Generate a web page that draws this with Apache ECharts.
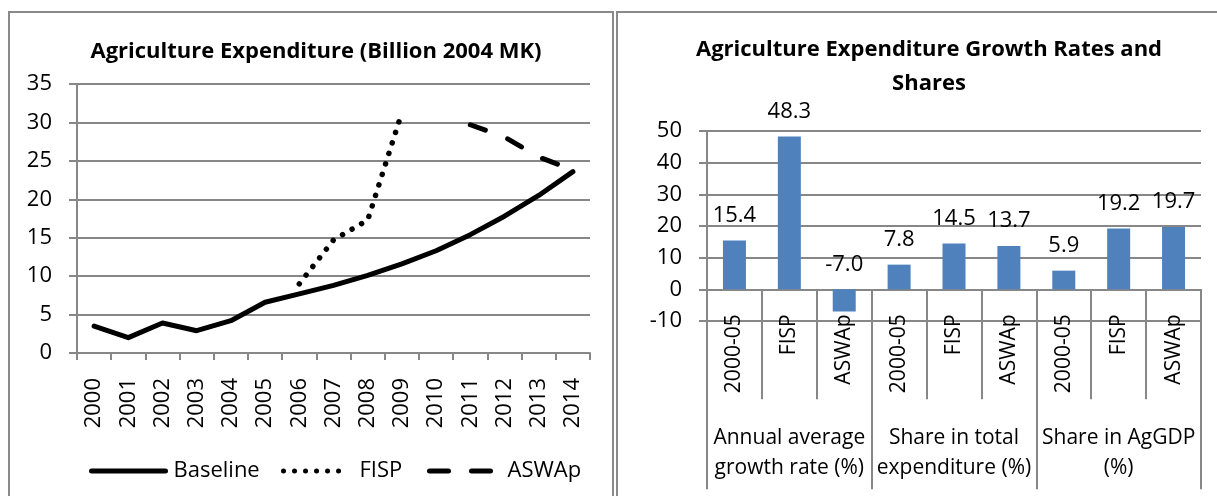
<!DOCTYPE html>
<html>
<head>
<meta charset="utf-8">
<script src="https://cdn.jsdelivr.net/npm/echarts@6/dist/echarts.min.js"></script>
<style>
  html, body { margin: 0; padding: 0; background: #fff; }
  #chart { position: absolute; left: 0; top: 0; width: 1217px; height: 496px; }
  .frame { position: absolute; border: 2px solid #898989; pointer-events: none; }
</style>
</head>
<body>
<div id="chart"></div>
<div class="frame" style="left:8px; top:11px; width:602px; height:520px;"></div>
<div class="frame" style="left:616px; top:11px; width:640px; height:520px;"></div>
<script>
// left panel: expenditure in billion 2004 MK
const years = ['2000', '2001', '2002', '2003', '2004', '2005', '2006', '2007',
               '2008', '2009', '2010', '2011', '2012', '2013', '2014'];
const baseline = [3.5, 2.0, 3.9, 2.9, 4.2, 6.6, 7.7, 8.8, 10.1, 11.6, 13.3, 15.4, 17.8, 20.5, 23.6];
const fisp     = [null, null, null, null, null, null, 9.0, 14.7, 17.3, 31.3, null, null, null, null, null];
const aswap    = [null, null, null, null, null, null, null, null, null, null, null, 29.7, 28.1, 25.5, 23.8];

// right panel: growth rates and shares
const barCategories = ['2000-05', 'FISP', 'ASWAp', '2000-05', 'FISP', 'ASWAp', '2000-05', 'FISP', 'ASWAp'];
const barValues = [15.4, 48.3, -7.0, 7.8, 14.5, 13.7, 5.9, 19.2, 19.7];
const groupLabels = ['Annual average\ngrowth rate (%)', 'Share in total\nexpenditure (%)', 'Share in AgGDP\n(%)'];

const FONT = 'Open Sans';
const GRID_COLOR = '#878787';

// bar grid: value range -10..50 over 190px, so the zero line sits 190/6 px above the bottom
const BAR_GRID_H = 190;
const ZERO_SHIFT = -BAR_GRID_H / 6;

let chart = echarts.init(document.getElementById('chart'));

function legendFor(name, left, width, extraText, extraLine) {
    return {
        data: [name], left: left, top: 460, padding: 0,
        itemWidth: width, itemHeight: 14,
        textStyle: { color: '#000', fontFamily: FONT, fontSize: 22, padding: [0, 0, 0, extraText] },
        itemStyle: { opacity: 0 },
        lineStyle: Object.assign({ width: 5, cap: 'round' }, extraLine)
    };
}

let option = {
    animation: false,
    textStyle: { fontFamily: FONT },
    title: [
        {
            text: 'Agriculture Expenditure (Billion 2004 MK)',
            left: 311, top: 32, textAlign: 'center',
            textStyle: { fontFamily: FONT, fontSize: 22, fontWeight: 'bold', color: '#000', lineHeight: 30 }
        },
        {
            text: 'Agriculture Expenditure Growth Rates and\nShares',
            left: 924, top: 28, textAlign: 'center',
            textStyle: { fontFamily: FONT, fontSize: 22, fontWeight: 'bold', color: '#000', lineHeight: 34 }
        }
    ],
    legend: [
        legendFor('Baseline', 89, 74, 3, {}),
        legendFor('FISP', 281, 60, 11, {}),
        legendFor('ASWAp', 427, 65, 8, { type: [19, 23] })
    ],
    grid: [
        { left: 77, top: 84, width: 513, height: 269, outerBoundsMode: 'none', containLabel: false },
        { left: 707, top: 131, width: 494, height: BAR_GRID_H, outerBoundsMode: 'none', containLabel: false }
    ],
    xAxis: [
        {
            type: 'category', gridIndex: 0, data: years, boundaryGap: true,
            axisLine: { lineStyle: { color: GRID_COLOR, width: 2 } },
            axisTick: { show: true, interval: 0, length: 7, lineStyle: { color: GRID_COLOR, width: 2 } },
            axisLabel: { interval: 0, rotate: 90, margin: 25, color: '#000', fontSize: 22, fontFamily: FONT }
        },
        {
            type: 'category', gridIndex: 1, data: barCategories, boundaryGap: true, position: 'bottom',
            offset: ZERO_SHIFT,
            axisLine: { show: true, onZero: false, lineStyle: { color: GRID_COLOR, width: 2 } },
            axisTick: { show: true, interval: 0, length: 110, lineStyle: { color: GRID_COLOR, width: 2 } },
            axisLabel: { interval: 0, rotate: 90, margin: 25, color: '#000', fontSize: 21, fontFamily: FONT }
        },
        {
            type: 'category', gridIndex: 1, data: groupLabels, boundaryGap: true, position: 'bottom',
            offset: ZERO_SHIFT,
            axisLine: { show: true, onZero: false, lineStyle: { color: GRID_COLOR, width: 2 } },
            axisTick: { show: true, interval: 0, length: 200, lineStyle: { color: GRID_COLOR, width: 2 } },
            axisLabel: { interval: 0, margin: 134, color: '#000', fontSize: 21, lineHeight: 30, fontFamily: FONT }
        }
    ],
    yAxis: [
        {
            type: 'value', gridIndex: 0, min: 0, max: 35, interval: 5,
            axisLine: { show: true, lineStyle: { color: GRID_COLOR, width: 2 } },
            axisTick: { show: true, length: 8, lineStyle: { color: GRID_COLOR, width: 2 } },
            splitLine: { lineStyle: { color: GRID_COLOR, width: 2 } },
            axisLabel: { margin: 25, color: '#000', fontSize: 22, fontFamily: FONT }
        },
        {
            type: 'value', gridIndex: 1, min: -10, max: 50, interval: 10,
            axisLine: { show: true, lineStyle: { color: GRID_COLOR, width: 2 } },
            axisTick: { show: true, length: 8, lineStyle: { color: GRID_COLOR, width: 2 } },
            splitLine: { lineStyle: { color: GRID_COLOR, width: 2 } },
            axisLabel: { margin: 25, color: '#000', fontSize: 22, fontFamily: FONT }
        }
    ],
    series: [
        {
            name: 'Baseline', type: 'line', xAxisIndex: 0, yAxisIndex: 0, data: baseline,
            symbol: 'none', color: '#000',
            lineStyle: { color: '#000', width: 5, join: 'round', cap: 'round' }
        },
        {
            name: 'FISP', type: 'line', xAxisIndex: 0, yAxisIndex: 0, data: fisp,
            symbol: 'none', color: '#000',
            lineStyle: { color: '#000', width: 5.5, type: [0.01, 11], cap: 'round' }
        },
        {
            name: 'ASWAp', type: 'line', xAxisIndex: 0, yAxisIndex: 0, data: aswap,
            symbol: 'none', color: '#000',
            lineStyle: { color: '#000', width: 5, type: [16, 24], cap: 'round' }
        },
        {
            name: 'Shares', type: 'bar', xAxisIndex: 1, yAxisIndex: 1, data: barValues,
            barWidth: 23,
            itemStyle: { color: '#4F81BD' },
            label: {
                show: true, position: 'top', distance: 14, color: '#000',
                fontSize: 22, fontFamily: FONT,
                formatter: p => p.value.toFixed(1)
            }
        }
    ]
};

chart.setOption(option);
</script>
</body>
</html>
